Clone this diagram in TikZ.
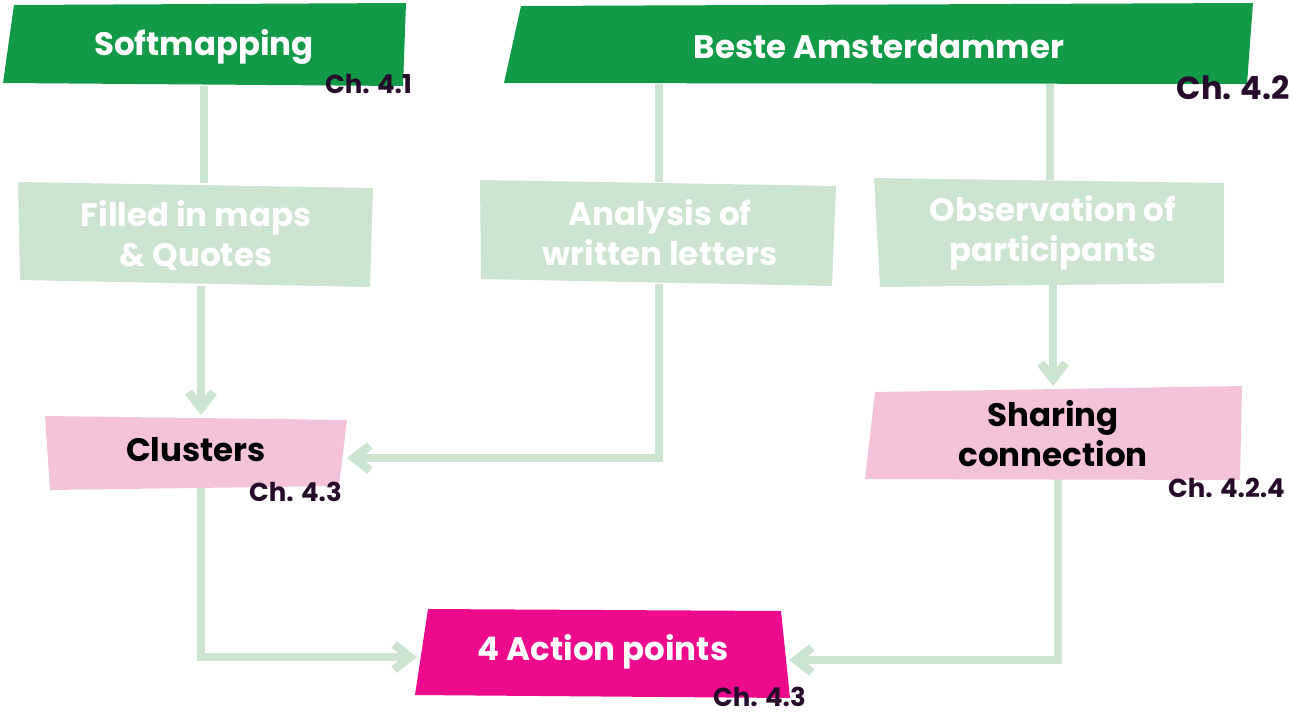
\documentclass[tikz,border=0pt]{standalone}
\usepackage{fontspec}
\setmainfont{Poppins}
\usetikzlibrary{arrows.meta}
\definecolor{dkgreen}{HTML}{129A48}
\definecolor{ltgreen}{HTML}{CDE4D1}
\definecolor{pinkbox}{HTML}{F4C3DA}
\definecolor{magbox}{HTML}{ED0A8C}
\definecolor{chtext}{HTML}{270B2B}
\tikzset{
  flow/.style={draw=ltgreen, line width=8.5pt},
  flowarrow/.style={flow, -{Straight Barb[length=16pt,width=25pt]}},
  label/.style={font=\bfseries\fontsize{32.5}{40}\selectfont, align=center, inner sep=0pt},
  chref/.style={font=\bfseries\fontsize{26}{28}\selectfont, text=chtext, inner sep=0pt, anchor=base east},
}
\begin{document}
\begin{tikzpicture}[x=1pt,y=-1pt]
\useasboundingbox (0,0) rectangle (1293,713);

% attachment points on the box edges
\coordinate (softB) at (204,86);
\coordinate (fillT) at (204,183);
\coordinate (fillB) at (201,286);
\coordinate (clusT) at (201,415);
\coordinate (clusR) at (347,458);
\coordinate (clusB) at (201,488);
\coordinate (besteBL) at (659,84);
\coordinate (besteBR) at (1050,84);
\coordinate (analT) at (659,182);
\coordinate (analB) at (659,284);
\coordinate (obsT) at (1050,180);
\coordinate (obsB) at (1053,285);
\coordinate (shareT) at (1053,386);
\coordinate (shareB) at (1058,478);
\coordinate (actL) at (417,657);
\coordinate (actR) at (789,660);

% connectors
\draw[flow] (softB) -- (fillT);
\draw[flowarrow] (fillB) -- (clusT);
\draw[flow] (besteBL) -- (analT);
\draw[flowarrow] (analB) |- (clusR);
\draw[flow] (besteBR) -- (obsT);
\draw[flowarrow] (obsB) -- (shareT);
\draw[flowarrow] (clusB) |- (actL);
\draw[flowarrow] (shareB) |- (actR);

% boxes
\fill[dkgreen] (14,5) -- (406,3) -- (403,86) -- (3,83) -- cycle;
\fill[dkgreen] (521,6) -- (1253,3) -- (1247,84) -- (504,83) -- cycle;
\fill[ltgreen] (18,182) -- (373,188) -- (370,287) -- (20,280) -- cycle;
\fill[ltgreen] (480,180) -- (836,186) -- (832,286) -- (481,279) -- cycle;
\fill[ltgreen] (874,178) -- (1224,183) -- (1224,283) -- (880,287) -- cycle;
\fill[pinkbox] (45,416) -- (347,420) -- (339,486) -- (50,490) -- cycle;
\fill[pinkbox] (875,392) -- (1242,386) -- (1240,480) -- (865,479) -- cycle;
\fill[magbox] (428,609) -- (781,611) -- (790,698) -- (415,695) -- cycle;

% box texts
\node[label, text=white] (soft) at (204,47) {Softmapping};
\node[label, text=white] (beste) at (879,47) {Beste Amsterdammer};
\node[label, text=white] (fill) at (196,235) {Filled in maps\\\& Quotes};
\node[label, text=white] (anal) at (660,233) {Analysis of\\written letters};
\node[label, text=white] (obs) at (1053,233) {Observation of\\participants};
\node[label, text=black] (clus) at (196,450) {Clusters};
\node[label, text=black] (share) at (1053,434) {Sharing\\connection};
\node[label, text=white] (act) at (603,652) {4 Action points};

% chapter references
\node[chref] (ch41) at (412,93) {Ch. 4.1};
\node[chref, font=\bfseries\fontsize{32}{34}\selectfont] (ch42) at (1290,99) {Ch. 4.2};
\node[chref] (ch43a) at (342,501) {Ch. 4.3};
\node[chref] (ch424) at (1285,497) {Ch. 4.2.4};
\node[chref] (ch43b) at (806,706) {Ch. 4.3};
\end{tikzpicture}
\end{document}
